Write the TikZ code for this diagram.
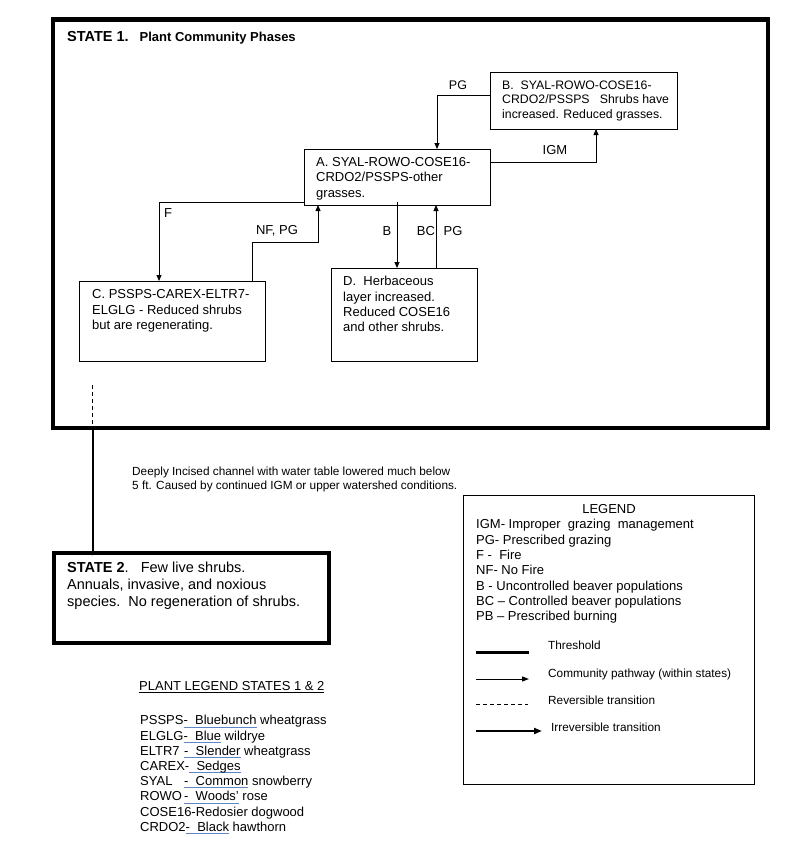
\documentclass[tikz,border=0pt]{standalone}
\usepackage{fontspec}
\setmainfont{Liberation Sans}
\usetikzlibrary{arrows.meta}

\definecolor{spellblue}{RGB}{95,135,200}
\newsavebox\spellbox
\newcommand\spellmark[1]{\sbox\spellbox{#1}\rlap{\textcolor{spellblue}{\rule[-2.6pt]{\wd\spellbox}{0.9pt}}}\usebox\spellbox}
\newcommand\boxfont{\fontsize{13}{15.3}\selectfont}
\newcommand\smallfont{\fontsize{11.8}{14}\selectfont}

\begin{document}
\begin{tikzpicture}[x=1pt,y=-1pt,>={Triangle[length=6pt,width=5pt]},
  state/.style={draw,line width=4.5pt,anchor=north west,inner sep=0pt,outer sep=0pt},
  phase/.style={draw,line width=0.8pt,anchor=north west,inner sep=0pt,outer sep=0pt},
  phasetext/.style={anchor=north west,inner sep=0pt,align=left,font=\boxfont},
  pathway/.style={->,line width=0.8pt},
  reversible/.style={line width=1.1pt,dash pattern=on 4pt off 3pt},
  irreversible/.style={-{Triangle[length=4pt,width=5pt]},line width=2pt},
  lbl/.style={inner sep=0pt,font=\boxfont}]
  \useasboundingbox (0,0) rectangle (800,852);

  % state boxes
  \node[state,minimum width=715pt,minimum height=408.5pt] (state1) at (53,19.5) {};
  \node[state,minimum width=275pt,minimum height=90pt] (state2) at (54,553) {};
  \node[anchor=base west,inner sep=0pt] (state1title) at (67,41)
    {\fontsize{14.5}{17}\selectfont\bfseries STATE 1.\hspace{11pt}\fontsize{13}{15}\selectfont Plant Community Phases};

  % community phases
  \node[phase,minimum width=187pt,minimum height=57pt] (phB) at (490,72) {};
  \node[phase,minimum width=186pt,minimum height=56pt] (phA) at (304,149) {};
  \node[phase,minimum width=186pt,minimum height=80pt] (phC) at (79,281) {};
  \node[phase,minimum width=146pt,minimum height=93pt] (phD) at (331,268) {};

  \node[phasetext,font=\fontsize{12.3}{14.5}\selectfont] (phBtext) at (502,80.6)
    {B.\ \ SYAL-ROWO-COSE16-\\CRDO2/PSSPS\ \ \ Shrubs have\\increased. Reduced grasses.};
  \node[phasetext] (phAtext) at (316,157.3) {A. SYAL-ROWO-COSE16-\\CRDO2/PSSPS-other\\grasses.};
  \node[phasetext,font=\fontsize{13}{15.5}\selectfont] (phCtext) at (92,289.3)
    {C. PSSPS-CAREX-ELTR7-\\ELGLG - Reduced shrubs\\but are regenerating.};
  \node[phasetext] (phDtext) at (343,276.3) {D.\ \ Herbaceous\\layer increased.\\Reduced COSE16\\and other shrubs.};

  % pathways
  \draw[pathway] ([yshift=-23pt]phB.north west) -| ([xshift=133pt]phA.north west);
  \draw[pathway] ([yshift=-13pt]phA.north east) -| ([xshift=106pt]phB.south west);
  \draw[pathway] ([yshift=-53pt]phA.north west) -| ([xshift=80pt]phC.north west);
  \coordinate (nfpg) at (318,242);
  \draw[pathway] ([xshift=173pt]phC.north west) |- (nfpg) -- ([xshift=14pt]phA.south west);
  \draw[pathway] ([xshift=93pt,yshift=3pt]phA.south west) -- ([xshift=66pt]phD.north west);
  \draw[pathway] ([xshift=105pt]phD.north west) -- ([xshift=132pt]phA.south west);

  \node[lbl,font=\fontsize{12.5}{15}\selectfont] (pgB) at (458,85) {PG};
  \node[lbl] (igm) at (555,150) {IGM};
  \node[lbl] (fire) at (168,213) {F};
  \node[lbl] (nfpglbl) at (277,231) {NF, PG};
  \node[lbl] (beaver) at (387,231) {B};
  \node[lbl] (bc) at (426,231) {BC};
  \node[lbl] (pgD) at (453,231) {PG};

  % transition to state 2
  \coordinate (trans) at (92.5,385);
  \draw[reversible] (trans) -- (trans |- state1.south);
  \draw[irreversible] (trans |- state1.south) -- ([yshift=-2.5pt]trans |- state2.north);
  \node[phasetext,font=\smallfont] (transtext) at (132,466.8)
    {Deeply Incised channel with water table lowered much below\\5 ft. Caused by continued IGM or upper watershed conditions.};

  \node[phasetext,font=\fontsize{14.5}{17}\selectfont] (state2text) at (67,561.8)
    {\textbf{STATE 2}.\ \ \ Few live shrubs.\\Annuals, invasive, and noxious\\species.\ \ No regeneration of shrubs.};

  % legend
  \node[phase,minimum width=291pt,minimum height=289pt] (legend) at (463,495) {};
  \node[anchor=base,inner sep=0pt,font=\boxfont] (legendtitle) at (609,513.7) {LEGEND};
  \node[phasetext] (legendlist) at (476,519.3)
    {IGM- Improper\ \ grazing\ \ management\\PG- Prescribed grazing\\F -\ \ Fire\\NF- No Fire\\
     B - Uncontrolled beaver populations\\BC – Controlled beaver populations\\PB – Prescribed burning};
  \draw[line width=3pt] (476,652) -- (529,652);
  \draw[->,line width=1pt,>={Triangle[length=7pt,width=5pt]}] (476,679) -- (529,679);
  \draw[line width=0.8pt,dash pattern=on 4pt off 3pt] (476,704) -- (528,704);
  \draw[-{Triangle[length=8pt,width=6pt]},line width=2.2pt] (476,731) -- (542,731);
  \node[anchor=base west,inner sep=0pt,font=\smallfont] (keythresh) at (548,649.2) {Threshold};
  \node[anchor=base west,inner sep=0pt,font=\smallfont] (keypath) at (548,677.2) {Community pathway (within states)};
  \node[anchor=base west,inner sep=0pt,font=\smallfont] (keyrev) at (548,704.2) {Reversible transition};
  \node[anchor=base west,inner sep=0pt,font=\smallfont] (keyirr) at (551,731.2) {Irreversible transition};

  % plant legend
  \node[anchor=base west,inner sep=0pt,font=\boxfont] (plantitle) at (139,690.7) {\underline{PLANT LEGEND STATES 1 \& 2}};
  \node[phasetext,font=\fontsize{13}{15.2}\selectfont] (plantlist) at (140,715.3)
    {PSSPS\spellmark{-\ \ Bluebunch} wheatgrass\\
     ELGLG\spellmark{-\ \ Blue} wildrye\\
     \makebox[44pt][l]{ELTR7}\spellmark{-\ \ Slender} wheatgrass\\
     CAREX-\spellmark{\ \ Sedges}\\
     \makebox[44pt][l]{SYAL}\spellmark{-\ \ Common} snowberry\\
     \makebox[44pt][l]{ROWO}\spellmark{-\ \ Woods'} rose\\
     COSE16-Redosier dogwood\\
     CRDO2\spellmark{-\ \ Black} hawthorn};
\end{tikzpicture}
\end{document}
